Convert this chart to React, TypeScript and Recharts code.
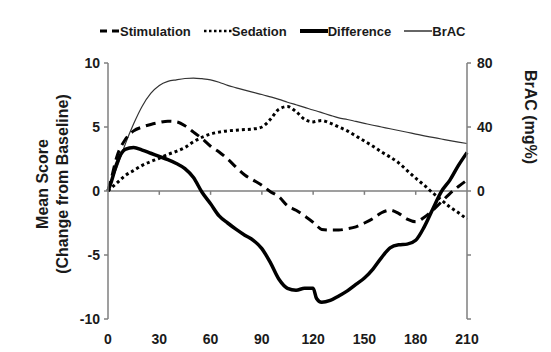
import React from 'react';
import { ComposedChart, Line, XAxis, YAxis, ReferenceLine } from 'recharts';

const minutes = [0, 2, 5, 10, 15, 20, 25, 30, 35, 40, 45, 50, 55, 60, 65, 70, 75, 80, 85, 90, 95, 100, 105, 110, 115, 120, 122, 125, 130, 135, 140, 145, 150, 155, 160, 165, 170, 175, 180, 185, 190, 195, 200, 205, 210];
const stimulation = [0, 1.0, 2.6, 4.0, 4.7, 5.0, 5.2, 5.35, 5.45, 5.4, 5.1, 4.6, 4.1, 3.5, 3.05, 2.5, 1.85, 1.25, 0.85, 0.45, -0.05, -0.45, -1.15, -1.5, -1.95, -2.45, -2.7, -3.0, -3.05, -3.05, -2.95, -2.8, -2.5, -2.15, -1.7, -1.5, -1.75, -2.2, -2.4, -2.05, -1.5, -0.85, -0.2, 0.35, 0.85];
const sedation = [0, 0.25, 0.6, 1.2, 1.6, 2.0, 2.3, 2.55, 2.85, 3.1, 3.4, 3.85, 4.2, 4.45, 4.6, 4.7, 4.75, 4.8, 4.85, 5.0, 5.6, 6.4, 6.6, 6.2, 5.6, 5.4, 5.45, 5.5, 5.3, 5.0, 4.7, 4.3, 3.9, 3.5, 3.05, 2.65, 2.2, 1.6, 1.0, 0.45, -0.15, -0.7, -1.25, -1.7, -2.2];
const difference = [0, 0.75, 2.1, 3.25, 3.4, 3.2, 2.95, 2.7, 2.45, 2.15, 1.75, 1.05, -0.1, -1.0, -1.95, -2.5, -3.0, -3.45, -3.85, -4.5, -5.6, -6.9, -7.6, -7.75, -7.6, -7.6, -8.4, -8.7, -8.55, -8.2, -7.8, -7.3, -6.8, -6.1, -5.2, -4.45, -4.2, -4.15, -3.85, -2.8, -1.4, -0.05, 0.85, 2.0, 3.0];
const brac = [0, 6, 14, 29, 42, 53, 61, 66, 68.5, 69.5, 70.3, 70.6, 70.2, 69.5, 68, 66, 64.5, 63, 61.6, 60.3, 58.8, 57.3, 55.5, 53.9, 52.3, 50.6, 50, 49, 47.3, 45.7, 44.7, 43.5, 42.3, 41.1, 40, 38.9, 37.8, 36.7, 35.6, 34.5, 33.5, 32.5, 31.5, 30.6, 29.7];

const xTicks = [0, 30, 60, 90, 120, 150, 180, 210];
const leftTicks = [-10, -5, 0, 5, 10];
const rightTicks = [-80, -40, 0, 40, 80];

const seriesNames = ['Stimulation', 'Sedation', 'Difference', 'BrAC'];

const data = minutes.map((m, i) => ({
  minute: m,
  stimulation: stimulation[i],
  sedation: sedation[i],
  difference: difference[i],
  brac: brac[i],
}));

const FONT = '"Liberation Sans", Arial, sans-serif';
const AXIS = '#7f7f7f';
const TEXT = '#1a1a1a';

const tickStyle = { fontFamily: FONT, fontSize: 14, fontWeight: 700, fill: TEXT };

const legendIcons: Record<string, { dash?: string; width: number }> = {
  Stimulation: { dash: '7 5', width: 3 },
  Sedation: { dash: '2.5 2.5', width: 2.5 },
  Difference: { width: 4 },
  BrAC: { width: 1.2 },
};

function LegendRow() {
  return (
    <div
      style={{
        position: 'absolute',
        top: 22,
        left: 100,
        display: 'flex',
        alignItems: 'center',
        fontFamily: FONT,
        fontSize: 13,
        fontWeight: 700,
        color: TEXT,
        whiteSpace: 'nowrap',
      }}
    >
      {seriesNames.map((n, i) => (
        <div key={n} style={{ display: 'flex', alignItems: 'center', marginRight: i < 3 ? 13 : 0 }}>
          <svg width={n === 'Stimulation' ? 20 : 28} height={18}>
            <line
              x1={0}
              y1={9}
              x2={n === 'Stimulation' ? 20 : 28}
              y2={9}
              stroke="#000"
              strokeWidth={legendIcons[n].width}
              strokeDasharray={legendIcons[n].dash}
            />
          </svg>
          <span>{n}</span>
        </div>
      ))}
    </div>
  );
}

const LeftLabel = (props: any) => {
  const vb = props.viewBox || { x: 0, y: 0, width: 108, height: 256 };
  const cy = vb.y + vb.height / 2 - 7;
  const x1 = vb.x + 42;
  const x2 = vb.x + 62;
  const st = { fontFamily: FONT, fontSize: 16, fontWeight: 700, fill: TEXT } as any;
  return (
    <g>
      <text x={x1} y={cy} transform={`rotate(-90, ${x1}, ${cy})`} textAnchor="middle" dominantBaseline="central" style={st}>
        Mean Score
      </text>
      <text x={x2} y={cy} transform={`rotate(-90, ${x2}, ${cy})`} textAnchor="middle" dominantBaseline="central" style={st}>
        (Change from Baseline)
      </text>
    </g>
  );
};

const RightLabel = (props: any) => {
  const vb = props.viewBox || { x: 467, y: 63, width: 84, height: 256 };
  const cx = vb.x + 63;
  const cy = vb.y + 54;
  const st = { fontFamily: FONT, fontSize: 16, fontWeight: 700, fill: TEXT } as any;
  return (
    <text x={cx} y={cy} transform={`rotate(90, ${cx}, ${cy})`} textAnchor="middle" dominantBaseline="central" style={st}>
      BrAC (mg%)
    </text>
  );
};

export default function App() {
  return (
    <div style={{ position: 'absolute', left: 0, top: 0, width: 551, height: 352, background: '#fff' }}>
      <ComposedChart width={551} height={352} data={data} margin={{ top: 63, right: 0, bottom: 0, left: 0 }}>
        <XAxis
          dataKey="minute"
          type="number"
          domain={[0, 210]}
          ticks={xTicks}
          axisLine={false}
          tickLine={false}
          tickSize={0}
          tickMargin={15}
          height={33}
          tick={tickStyle}
          interval={0}
        />
        <YAxis
          yAxisId="left"
          orientation="left"
          domain={[-10, 10]}
          ticks={leftTicks}
          width={108}
          axisLine={{ stroke: AXIS, strokeWidth: 1.5 }}
          tickLine={{ stroke: AXIS, strokeWidth: 1.5 }}
          tickSize={4}
          tickMargin={4}
          tick={tickStyle}
          interval={0}
          label={<LeftLabel />}
        />
        <YAxis
          yAxisId="right"
          orientation="right"
          domain={[-80, 80]}
          ticks={rightTicks}
          width={84}
          axisLine={{ stroke: AXIS, strokeWidth: 1.5 }}
          tickLine={{ stroke: AXIS, strokeWidth: 1.5 }}
          tickSize={4}
          tickMargin={6}
          tick={tickStyle}
          interval={0}
          tickFormatter={(v: number) => (v < 0 ? '' : String(v))}
          label={<RightLabel />}
        />
        <ReferenceLine yAxisId="left" y={0} stroke={AXIS} strokeWidth={1.5} />
        {xTicks.slice(1, -1).map((t) => (
          <ReferenceLine
            key={t}
            yAxisId="left"
            segment={[{ x: t, y: 0 }, { x: t, y: -0.3 }]}
            stroke={AXIS}
            strokeWidth={1.5}
          />
        ))}
        <Line yAxisId="right" type="monotone" dataKey="brac" stroke="#333" strokeWidth={1.2} dot={false} isAnimationActive={false} />
        <Line yAxisId="left" type="monotone" dataKey="sedation" stroke="#000" strokeWidth={3} strokeDasharray="3 3" dot={false} isAnimationActive={false} />
        <Line yAxisId="left" type="monotone" dataKey="stimulation" stroke="#000" strokeWidth={3} strokeDasharray="10 6" dot={false} isAnimationActive={false} />
        <Line yAxisId="left" type="monotone" dataKey="difference" stroke="#000" strokeWidth={3.5} dot={false} isAnimationActive={false} />
      </ComposedChart>
      <LegendRow />
    </div>
  );
}
